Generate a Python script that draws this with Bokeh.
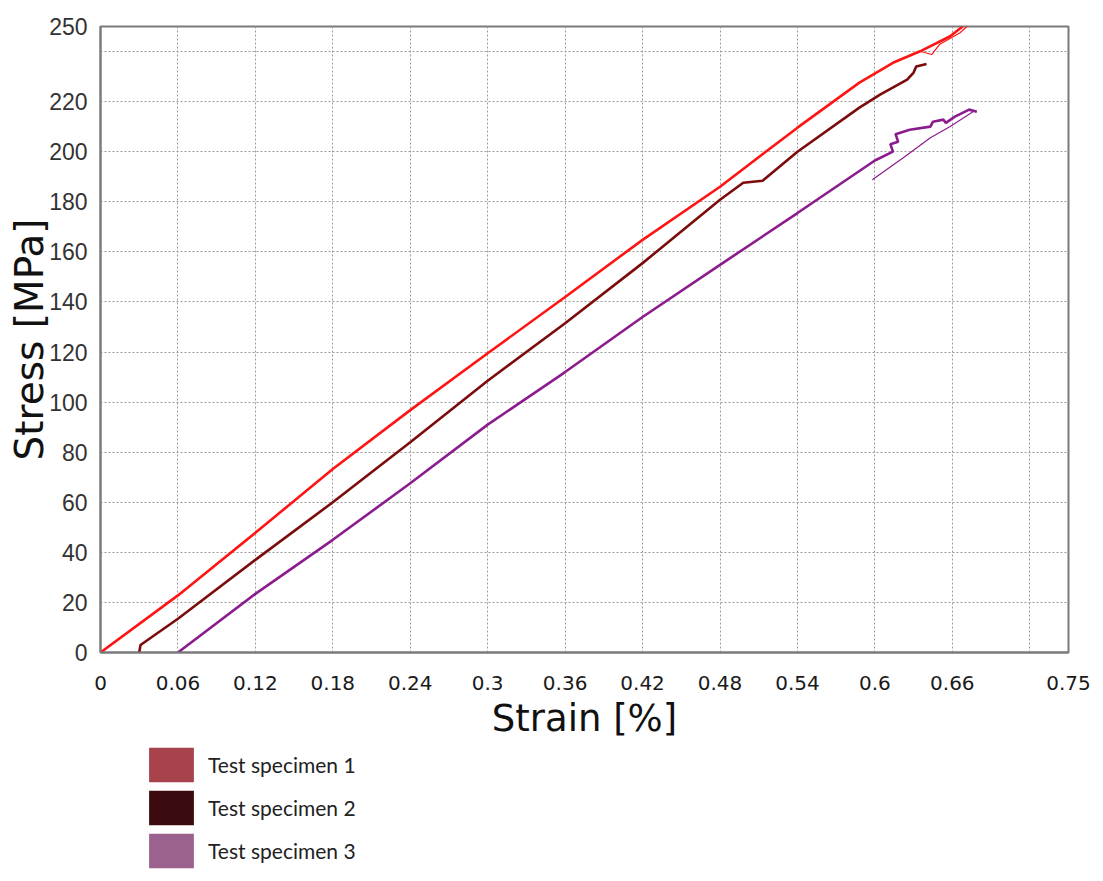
from bokeh.plotting import figure
from bokeh.layouts import column
from bokeh.models import Range1d, FixedTicker, Legend, LegendItem
from bokeh.embed import file_html
from bokeh.resources import INLINE

# ---- data ------------------------------------------------------------------
# Test specimen 1 (red)
strain_1 = [0, 0.06, 0.12, 0.18, 0.24, 0.30, 0.36, 0.42, 0.48, 0.54, 0.588, 0.614, 0.635, 0.658, 0.668]
stress_1 = [0, 22.8, 47.8, 73.3, 96.8, 119.5, 142.0, 164.8, 186.0, 209.6, 227.6, 235.5, 240.1, 246.0, 250.0]
# thin branch at the end of specimen 1
strain_1b = [0.635, 0.644, 0.650, 0.666, 0.673]
stress_1b = [240.1, 238.8, 242.8, 247.5, 250.8]

# Test specimen 2 (dark red)
strain_2 = [0.030, 0.031, 0.06, 0.12, 0.18, 0.24, 0.30, 0.36, 0.42, 0.48, 0.498, 0.513, 0.54, 0.588, 0.604, 0.625, 0.630, 0.632, 0.640]
stress_2 = [0, 3.0, 13.5, 37.0, 60.0, 84.0, 108.5, 131.5, 155.5, 180.8, 187.6, 188.4, 200.0, 217.6, 222.8, 228.8, 231.6, 234.0, 235.0]

# Test specimen 3 (purple)
strain_3 = [0.06, 0.12, 0.18, 0.24, 0.30, 0.36, 0.42, 0.48, 0.54, 0.60, 0.614, 0.612, 0.618, 0.616, 0.627, 0.643, 0.645, 0.653, 0.655, 0.662, 0.673, 0.679]
stress_3 = [0, 23.4, 45.0, 67.6, 91.0, 112.0, 134.0, 154.8, 175.5, 196.5, 200.0, 203.0, 204.0, 207.0, 208.8, 210.0, 212.0, 212.8, 211.5, 214.0, 216.8, 216.0]
# thin branch at the end of specimen 3
strain_3b = [0.598, 0.622, 0.643, 0.658, 0.676]
stress_3b = [188.8, 197.6, 205.6, 210.0, 216.0]

x_ticks = [0, 0.06, 0.12, 0.18, 0.24, 0.3, 0.36, 0.42, 0.48, 0.54, 0.6, 0.66, 0.75]
x_tick_labels = ["0", "0.06", "0.12", "0.18", "0.24", "0.3", "0.36", "0.42", "0.48", "0.54", "0.6", "0.66", "0.75"]
x_grid = [0.06, 0.12, 0.18, 0.24, 0.3, 0.36, 0.42, 0.48, 0.54, 0.6, 0.66, 0.72]
y_ticks = [0, 20, 40, 60, 80, 100, 120, 140, 160, 180, 200, 220, 250]
y_grid = [20, 40, 60, 80, 100, 120, 140, 160, 180, 200, 220, 240]

specimens = ["Test specimen 1", "Test specimen 2", "Test specimen 3"]
line_colors = ["#ff1414", "#7c0b0b", "#8b1c8e"]
swatch_colors = ["#a8424b", "#3b0b0f", "#9c628f"]

# ---- main chart ------------------------------------------------------------
p = figure(width=1103, height=742,
           x_range=Range1d(0, 0.75), y_range=Range1d(0, 250),
           output_backend="svg", toolbar_location=None,
           min_border_left=100, min_border_right=35,
           min_border_top=26, min_border_bottom=90)

p.outline_line_color = "#7a7a7a"
p.outline_line_width = 2

p.xaxis.ticker = FixedTicker(ticks=x_ticks)
p.xaxis.major_label_overrides = dict(zip(x_ticks, x_tick_labels))
p.yaxis.ticker = FixedTicker(ticks=y_ticks)

for ax in (p.xaxis, p.yaxis):
    ax.axis_line_color = "#7a7a7a"
    ax.axis_line_width = 2
    ax.major_tick_line_color = None
    ax.minor_tick_line_color = None
    ax.axis_label_text_font = "DejaVu Sans"
    ax.axis_label_text_font_style = "normal"
    ax.axis_label_text_color = "#111111"

p.xaxis.axis_label = "Strain [%]"
p.xaxis.axis_label_text_font_size = "37px"
p.xaxis.axis_label_standoff = 4
p.xaxis.major_label_text_font = "DejaVu Sans"
p.xaxis.major_label_text_font_size = "20px"
p.xaxis.major_label_text_color = "#1a1a1a"
p.xaxis.major_label_standoff = 17

p.yaxis.axis_label = "Stress [MPa]"
p.yaxis.axis_label_text_font_size = "39px"
p.yaxis.axis_label_standoff = -6
p.yaxis.major_label_text_font = "Liberation Sans"
p.yaxis.major_label_text_font_size = "23px"
p.yaxis.major_label_text_color = "#333333"
p.yaxis.major_label_standoff = 7

p.xgrid.ticker = FixedTicker(ticks=x_grid)
p.ygrid.ticker = FixedTicker(ticks=y_grid)
for g in (p.xgrid, p.ygrid):
    g.grid_line_color = "#9a9a9a"
    g.grid_line_dash = "2 2"
    g.grid_line_width = 1

p.line(strain_1b, stress_1b, line_color=line_colors[0], line_width=1.2)
p.line(strain_3b, stress_3b, line_color=line_colors[2], line_width=1.2)
p.line(strain_3, stress_3, line_color=line_colors[2], line_width=2.6)
p.line(strain_2, stress_2, line_color=line_colors[1], line_width=2.6)
p.line(strain_1, stress_1, line_color=line_colors[0], line_width=2.6)

# ---- legend strip below the chart ------------------------------------------
lg = figure(width=1103, height=139, x_range=Range1d(0, 1), y_range=Range1d(0, 1),
            x_axis_type=None, y_axis_type=None,
            output_backend="svg", toolbar_location=None,
            min_border_left=100, min_border_right=35,
            min_border_top=0, min_border_bottom=0, outline_line_color=None)
lg.grid.visible = False

items = []
for name, col in zip(specimens, swatch_colors):
    # zero-size quad: only used to give the legend its colour swatch
    r = lg.quad(left=[0], right=[0], top=[0], bottom=[0], fill_color=col, line_color=None)
    items.append(LegendItem(label=name, renderers=[r]))

legend = Legend(items=items, location=(43, 9),
                glyph_width=56, glyph_height=43, spacing=0,
                padding=0, margin=0, label_standoff=9,
                label_text_font="Lato", label_text_font_size="21px",
                label_text_color="#222222",
                border_line_color=None, background_fill_alpha=0)
lg.add_layout(legend)

open("out.html", "w").write(file_html(column(p, lg), INLINE))
